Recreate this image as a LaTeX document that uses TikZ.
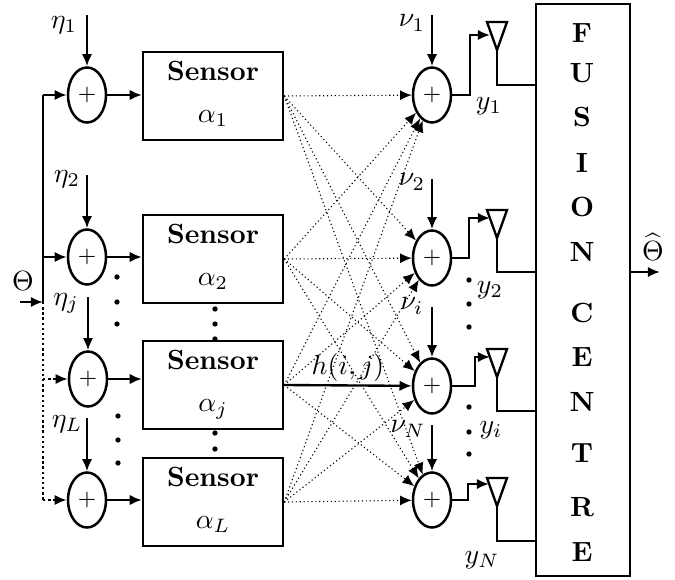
\documentclass[tikz,border=0pt]{standalone}
\usetikzlibrary{shapes.geometric,arrows.meta}
\begin{document}
\begin{tikzpicture}[x=0.36pt,y=-0.36pt,
  adder/.style={draw, ellipse, line width=0.9pt, minimum width=13.7pt, minimum height=19.8pt, inner sep=0pt, font=\footnotesize},
  sensorbox/.style={draw, line width=0.85pt, minimum width=50.4pt, minimum height=29.5pt, align=center},
  sig/.style={line width=0.85pt},
  arr/.style={line width=0.85pt, -{Latex[length=4.4pt,width=3.8pt]}},
  link/.style={densely dotted, -{Latex[length=4.2pt,width=3.6pt]}}]
\useasboundingbox (0,0) rectangle (675,579);
% noise adders at the sensors
\node[adder] (l1) at (87,95){$+$};
\node[adder] (l2) at (87,257){$+$};
\node[adder] (l3) at (88,379){$+$};
\node[adder] (l4) at (87,500){$+$};
% sensors
\node[sensorbox] (s1) at (213,96){\textbf{Sensor}\\[3pt]$\vphantom{\alpha_j}\alpha_1$};
\node[sensorbox] (s2) at (213,259){\textbf{Sensor}\\[3pt]$\vphantom{\alpha_j}\alpha_2$};
\node[sensorbox] (s3) at (213,385){\textbf{Sensor}\\[3pt]$\vphantom{\alpha_j}\alpha_j$};
\node[sensorbox] (s4) at (213,502){\textbf{Sensor}\\[3pt]$\vphantom{\alpha_j}\alpha_L$};
% channel noise adders
\node[adder] (r1) at (432,95){$+$};
\node[adder] (r2) at (432,258){$+$};
\node[adder] (r3) at (432,386){$+$};
\node[adder] (r4) at (432,500){$+$};
% fusion centre
\node[draw, line width=0.5pt, minimum width=33.8pt, minimum height=205.9pt, inner sep=0pt] (fc) at (583,290){};
\foreach \ch/\yy [count=\n] in {F/33,U/73,S/117,I/163,O/207,N/252,C/313,E/357,N/402,T/453,R/507,E/552}
  \node[font=\bfseries] (fl\n) at (582,\yy){\ch};
% input bus
\node (theta) at (23,281){$\Theta$};
\coordinate (tin) at (20,302);
\coordinate (bus) at (43,302);
\draw[arr] (tin) -- (bus);
\draw[sig] (bus |- l1) -- (bus);
\draw[sig, densely dotted] (bus) -- (bus |- l4);
\draw[arr] (bus |- l1) -- (l1);
\draw[arr] (bus |- l2) -- (l2);
\draw[arr, densely dotted] (bus |- l3) -- (l3);
\draw[arr, densely dotted] (bus |- l4) -- (l4);
% sensor noise
\node (eta1) at (64,25){$\eta_1$};
\node (eta2) at (67,179){$\eta_2$};
\node (etaj) at (66,303){$\eta_j$};
\node (etaL) at (67,424){$\eta_L$};
\draw[arr] ([yshift=18.4pt]l1.north) -- (l1.north);
\draw[arr] ([yshift=19pt]l2.north) -- (l2.north);
\draw[arr] ([yshift=19pt]l3.north) -- (l3.north);
\draw[arr] ([yshift=19pt]l4.north) -- (l4.north);
\draw[arr] (l1.east) -- (s1.west |- l1.east);
\draw[arr] (l2.east) -- (s2.west |- l2.east);
\draw[arr] (l3.east) -- (s3.west |- l3.east);
\draw[arr] (l4.east) -- (s4.west |- l4.east);
% channels
\foreach \j in {1,...,4}
  \foreach \i in {1,...,4}{
    \ifnum\i\j=33 \else \draw[link] (s\j.east) -- (r\i); \fi
  }
\draw[arr] (s3.east) -- (r3) node[above, pos=0.5, inner sep=1pt]{$h(i,j)$};
% channel noise
\node (nu1) at (412,23){$\nu_1$};
\node (nu2) at (412,182){$\nu_2$};
\node (nui) at (412,306){$\nu_i$};
\node (nuN) at (408,429){$\nu_N$};
\draw[arr] ([yshift=18.4pt]r1.north) -- (r1.north);
\draw[arr] ([yshift=18pt]r2.north) -- (r2.north);
\draw[arr] ([yshift=18pt]r3.north) -- (r3.north);
\draw[arr] ([yshift=16.5pt]r4.north) -- (r4.north);
% antennas
\draw[sig] (487,22) -- (507,22) -- (497,50) -- cycle;
\draw[sig] (487,210) -- (507,210) -- (497,238) -- cycle;
\draw[sig] (487,349) -- (507,349) -- (497,377) -- cycle;
\draw[sig] (487,478) -- (507,478) -- (497,506) -- cycle;
\coordinate (ta1) at (490,35);
\coordinate (ta2) at (490,218);
\coordinate (ta3) at (490,357);
\coordinate (ta4) at (489,484);
\coordinate (ap1) at (497,50);
\coordinate (ap2) at (497,238);
\coordinate (ap3) at (497,377);
\coordinate (ap4) at (497,506);
\coordinate (fin1) at (536,85);
\coordinate (fin2) at (536,272);
\coordinate (fin3) at (536,411);
\coordinate (fin4) at (536,541);
\draw[arr] (r1.east) -- ++(18,0) |- (ta1);
\draw[arr] (r2.east) -- ++(17,0) |- (ta2);
\draw[arr] (r3.east) -- ++(23,0) |- (ta3);
\draw[arr] (r4.east) -- ++(16,0) |- (ta4);
\draw[sig] (ap1) |- (fin1);
\draw[sig] (ap2) |- (fin2);
\draw[sig] (ap3) |- (fin3);
\draw[sig] (ap4) |- (fin4);
\node (y1) at (489,106){$y_1$};
\node (y2) at (490,290){$y_2$};
\node (yi) at (491,430){$y_i$};
\node (yN) at (482,560){$y_N$};
% output
\coordinate (fout) at (630,272);
\draw[arr] (fout) -- ++(30,0);
\node (est) at (653,247){$\widehat{\Theta}$};
% dots
\foreach \x/\y in {117/277,117/302,117/324,118/416,118/440,118/463,
                   215/309,215/324,215/339,215/433,215/449,
                   469/280,469/304,469/327,469/407,469/432,469/454}
  \fill (\x,\y) circle (0.95pt);
\end{tikzpicture}
\end{document}
